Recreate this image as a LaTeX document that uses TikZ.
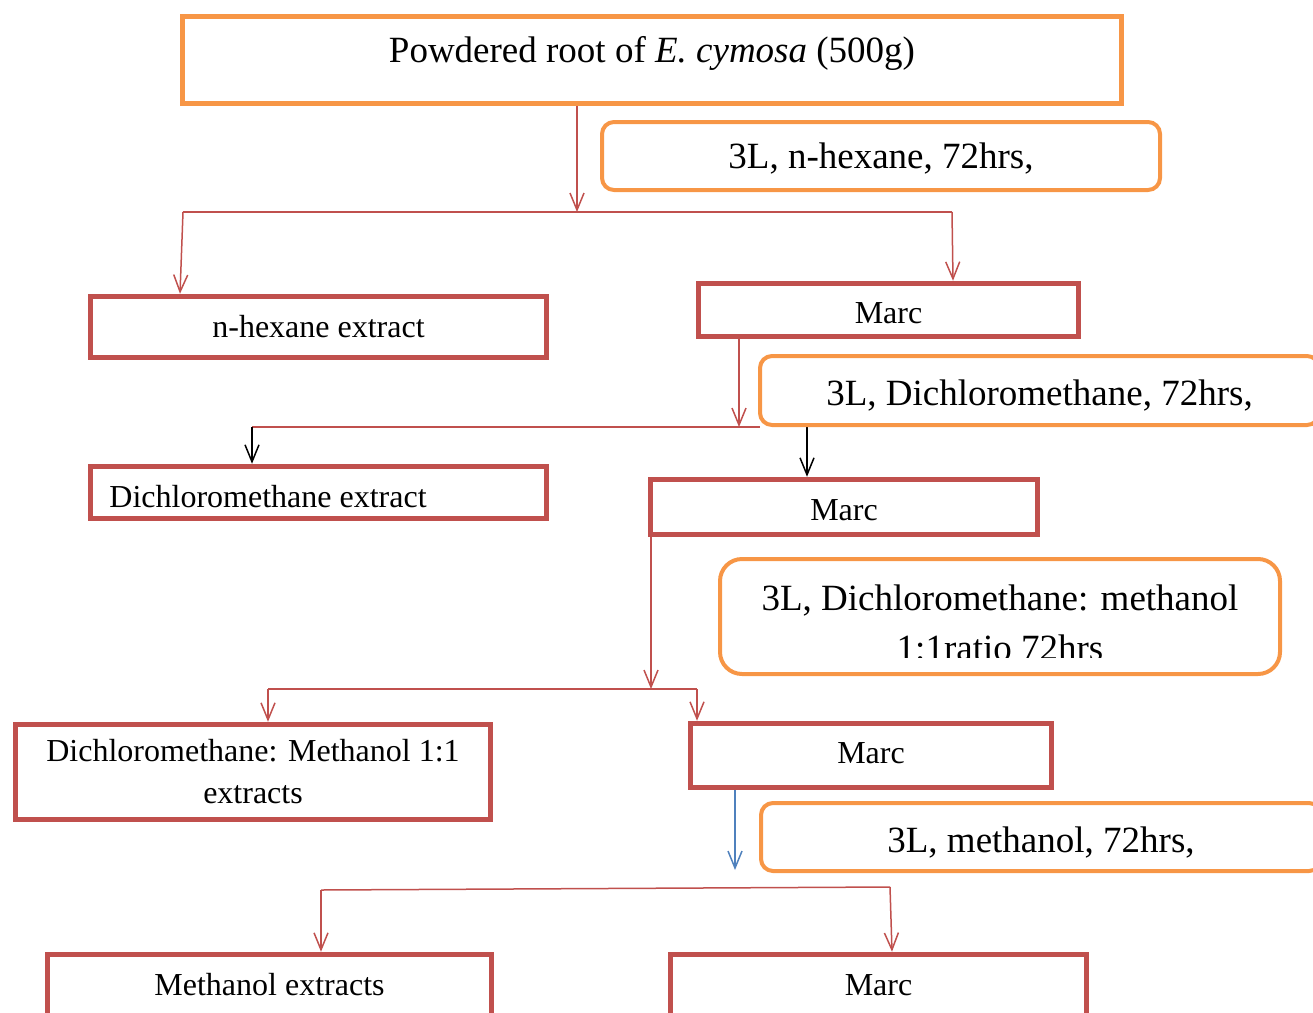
\documentclass[tikz,border=0pt]{standalone}
\usepackage{fontspec}
\setmainfont{Liberation Serif}
\usetikzlibrary{arrows.meta,backgrounds}
\definecolor{boxred}{HTML}{C0504D}
\definecolor{boxorange}{HTML}{F79646}
\definecolor{lineblue}{HTML}{4F81BD}
\tikzset{
 redbox/.style={draw=boxred, line width=5.5pt, inner sep=0pt, font=\fontsize{32}{42}\selectfont},
 titlebox/.style={draw=boxorange, line width=5pt, inner sep=0pt, font=\fontsize{37}{50}\selectfont},
 condbox/.style={draw=boxorange, line width=4pt, rounded corners=12pt, inner sep=0pt, font=\fontsize{37}{50}\selectfont},
 link/.style={draw=boxred, line width=1.5pt},
 arr/.style={link, -{Straight Barb[length=17pt,width=14pt]}},
 blackarr/.style={draw=black, line width=1.5pt, -{Straight Barb[length=17pt,width=14pt]}},
 bluearr/.style={draw=lineblue, line width=1.5pt, -{Straight Barb[length=17pt,width=14pt]}},
}
\begin{document}
\begin{tikzpicture}[x=1pt,y=-1pt]
\useasboundingbox (0,0) rectangle (1313,1012);
% boxes
\node[titlebox, minimum width=939pt, minimum height=87pt, text height=12pt, text depth=8pt] (title) at (652,60) {Powdered root of \textit{E. cymosa} (500g)};
\node[condbox, minimum width=558pt, minimum height=68pt, text height=32pt, text depth=8pt] (c1) at (881,156) {3L, n-hexane, 72hrs,};
\node[redbox, minimum width=456pt, minimum height=61pt, text height=28pt, text depth=8pt] (nhex) at (318.5,327) {n-hexane extract};
\node[redbox, minimum width=380pt, minimum height=53pt, text height=34pt, text depth=8pt] (marc1) at (888.5,310) {Marc};
\node[condbox, minimum width=559pt, minimum height=69pt, text height=37pt, text depth=8pt] (c2) at (1039.5,390.5) {3L, Dichloromethane, 72hrs,};
\node[redbox, minimum width=456pt, minimum height=52pt, text height=37pt, text depth=8pt] (dcmext) at (318.5,492.5) {Dichloromethane extract\kern101pt\relax};
\node[redbox, minimum width=387pt, minimum height=55pt, text height=34pt, text depth=8pt] (marc2) at (844,507) {Marc};
\node[condbox, rounded corners=22pt, minimum width=560pt, minimum height=115pt] (c3) at (1000,616.5) {};
\begin{scope}
\clip (722,561) rectangle (1278,657);
\node[font=\fontsize{37}{50}\selectfont, align=center, inner sep=0pt] (c3text) at (1000,622.5) {3L, Dichloromethane: methanol\\1:1ratio 72hrs};
\end{scope}
\node[redbox, align=center, minimum width=475pt, minimum height=95pt] (dcmme) at (253,772) {Dichloromethane: Methanol 1:1\\extracts};
\node[redbox, minimum width=361pt, minimum height=64pt, text height=23pt, text depth=8pt] (marc3) at (871,755.5) {Marc};
\node[condbox, minimum width=560pt, minimum height=68pt, text height=38pt, text depth=8pt] (c4) at (1041,837) {3L, methanol, 72hrs,};
\node[redbox, minimum width=444pt, minimum height=63pt, text height=26pt, text depth=8pt] (meoh) at (269.5,986) {Methanol extracts};
\node[redbox, minimum width=416pt, minimum height=63pt, text height=26pt, text depth=8pt] (marc4) at (878.5,986) {Marc};
% junctions
\coordinate (s1) at (577,212); \coordinate (s1l) at (183,212); \coordinate (s1r) at (952,212);
\coordinate (s2) at (739,427); \coordinate (s2l) at (252,427); \coordinate (s2r) at (760,427);
\coordinate (s2b) at (807,427);
\coordinate (s3) at (651,689); \coordinate (s3l) at (268,689); \coordinate (s3r) at (697,689);
\coordinate (s4) at (735,870); \coordinate (s4l) at (321,890); \coordinate (s4r) at (890,887);
\begin{pgfonlayer}{background}
\draw[arr] (title.south -| s1) -- (s1);
\draw[link] (s1l) -- (s1r);
\draw[arr] (s1l) -- ([xshift=-3pt]s1l |- nhex.north);
\draw[arr] (s1r) -- ([xshift=1pt]s1r |- marc1.north);
\draw[arr] (marc1.south -| s2) -- (s2);
\draw[link] (s2l) -- (s2r);
\draw[blackarr] (s2l) -- (s2l |- dcmext.north);
\draw[blackarr] (c2.south -| s2b) -- (s2b |- marc2.north);
\draw[arr] (marc2.south -| s3) -- (s3);
\draw[link] (s3l) -- (s3r);
\draw[arr] (s3l) -- (s3l |- dcmme.north);
\draw[arr] (s3r) -- (s3r |- marc3.north);
\draw[bluearr] (marc3.south -| s4) -- (s4);
\draw[link] (s4l) -- (s4r);
\draw[arr] (s4l) -- (s4l |- meoh.north);
\draw[arr] (s4r) -- ([xshift=2pt]s4r |- marc4.north);
\end{pgfonlayer}
\end{tikzpicture}
\end{document}
